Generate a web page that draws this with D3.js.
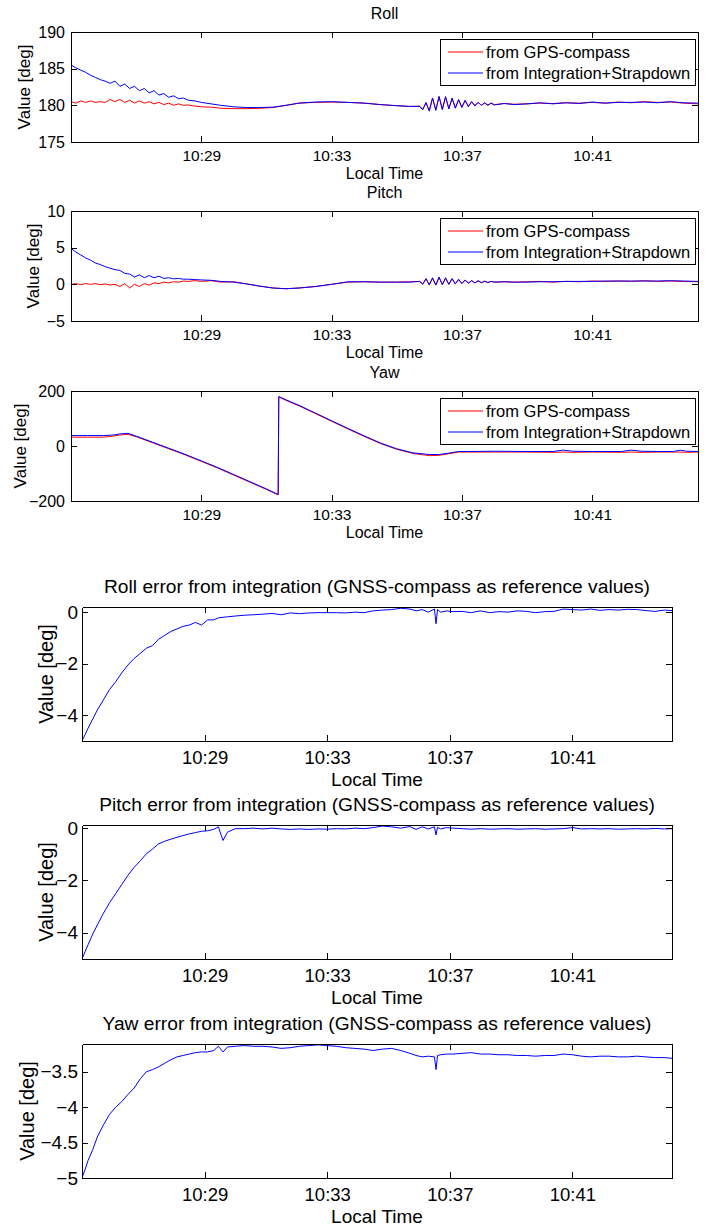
<!DOCTYPE html>
<html>
<head>
<meta charset="utf-8">
<script src="https://cdn.jsdelivr.net/npm/d3@7"></script>
<style>
  body { margin: 0; background: #fff; }
  svg { display: block; font-family: "Liberation Sans", Arial, Helvetica, sans-serif; }
</style>
</head>
<body>
<div id="chart"></div>
<script>
// Attitude from GPS-compass vs integration, plus the integration errors
// times are minutes after 10:25:00

const startTime = "10:25:00";
const endMinute = 19.25;
const timeTickLabels = ["10:29", "10:33", "10:37", "10:41"];
const seriesNames = ["from GPS-compass", "from Integration+Strapdown"];

// roll + pitch share one time base
const timeRP = [
  0, 0.15, 0.3, 0.45, 0.6,
  0.75, 0.9, 1.05, 1.2, 1.35,
  1.5, 1.65, 1.8, 1.95, 2.1,
  2.25, 2.4, 2.55, 2.7, 2.85,
  3.0, 3.15, 3.3, 3.45, 3.6,
  3.8, 4.0, 4.3, 4.6, 5.0,
  5.4, 5.8, 6.2, 6.6, 7.0,
  7.5, 8.0, 8.5, 9.0, 9.5,
  10.0, 10.4, 10.7, 10.8, 10.9,
  11.0, 11.1, 11.2, 11.3, 11.4,
  11.5, 11.6, 11.7, 11.8, 11.9,
  12.0, 12.1, 12.2, 12.3, 12.4,
  12.5, 12.6, 12.7, 12.8, 12.9,
  13.0, 13.3, 13.6, 14.0, 14.4,
  14.8, 15.2, 15.6, 16.0, 16.4,
  16.8, 17.2, 17.6, 18.0, 18.4,
  18.8, 19.25
];

const rollGps = [
  180.5, 180.3, 180.6, 180.4, 180.6,
  180.4, 180.5, 180.4, 180.8, 180.5,
  180.8, 180.4, 180.7, 180.3, 180.6,
  180.3, 180.5, 180.2, 180.4, 180.1,
  180.3, 180.0, 180.2, 180.0, 180.05,
  179.9, 179.8, 179.75, 179.6, 179.55,
  179.55, 179.6, 179.7, 180.0, 180.3,
  180.4, 180.45, 180.4, 180.3, 180.1,
  179.95, 179.85, 179.9, 179.5, 180.3,
  179.3, 181.0, 179.4, 181.2, 179.5,
  181.1, 179.6, 180.9, 179.7, 180.7,
  179.8, 180.6, 179.9, 180.5, 180.0,
  180.4, 180.0, 180.3, 180.05, 180.3,
  180.1, 180.25, 180.15, 180.2, 180.3,
  180.25, 180.35, 180.3, 180.4, 180.3,
  180.45, 180.35, 180.5, 180.4, 180.45,
  180.3, 180.2
];

const rollIns = [
  185.5, 185.1, 184.8, 184.5, 184.1,
  183.8, 183.5, 183.3, 183.0, 183.3,
  182.6, 182.9, 182.3, 182.6, 182.0,
  182.3, 181.7, 182.0, 181.4, 181.6,
  181.1, 181.3, 180.9, 181.0, 180.7,
  180.6, 180.4, 180.2, 180.0, 179.8,
  179.7, 179.7, 179.75, 180.0, 180.3,
  180.45, 180.5, 180.4, 180.3, 180.1,
  179.95, 179.85, 179.85, 179.4, 180.4,
  179.2, 181.0, 179.3, 181.2, 179.4,
  181.2, 179.5, 181.0, 179.6, 180.8,
  179.7, 180.7, 179.8, 180.5, 179.9,
  180.4, 180.0, 180.35, 180.0, 180.3,
  180.05, 180.25, 180.1, 180.2, 180.35,
  180.2, 180.35, 180.25, 180.45, 180.3,
  180.4, 180.4, 180.45, 180.35, 180.5,
  180.35, 180.3
];

const pitchGps = [
  0.0, 0.1, -0.05, 0.1, 0.0,
  0.1, -0.05, 0.05, -0.1, 0.0,
  -0.3, 0.1, -0.5, 0.0, -0.3,
  0.1, -0.1, 0.2, 0.1, 0.3,
  0.2, 0.35, 0.3, 0.45, 0.4,
  0.5, 0.4, 0.5, 0.3, 0.35,
  0.05, -0.25, -0.5, -0.6, -0.5,
  -0.3, 0.0, 0.3, 0.35, 0.3,
  0.3, 0.35, 0.4, 0.1, 0.7,
  0.0, 0.8, -0.1, 0.9, 0.0,
  0.8, 0.0, 0.7, 0.1, 0.6,
  0.15, 0.55, 0.2, 0.5, 0.2,
  0.45, 0.25, 0.4, 0.25, 0.4,
  0.3, 0.35, 0.3, 0.35, 0.4,
  0.3, 0.4, 0.35, 0.45, 0.4,
  0.45, 0.4, 0.5, 0.4, 0.45,
  0.4, 0.35
];

const pitchIns = [
  4.9, 4.4, 4.0, 3.6, 3.3,
  2.9, 2.7, 2.4, 2.2, 2.0,
  1.9, 1.5, 1.4, 1.0, 1.3,
  0.9, 1.2, 0.9, 1.1, 0.8,
  0.9, 0.75, 0.8, 0.7, 0.7,
  0.65, 0.6, 0.55, 0.4, 0.3,
  0.05, -0.25, -0.5, -0.6, -0.5,
  -0.3, 0.0, 0.35, 0.35, 0.3,
  0.3, 0.3, 0.4, 0.0, 0.8,
  -0.1, 0.9, -0.1, 1.0, -0.05,
  0.9, 0.0, 0.8, 0.05, 0.7,
  0.1, 0.6, 0.15, 0.5, 0.2,
  0.5, 0.2, 0.45, 0.25, 0.4,
  0.3, 0.35, 0.3, 0.3, 0.35,
  0.35, 0.4, 0.4, 0.4, 0.45,
  0.45, 0.45, 0.45, 0.45, 0.5,
  0.45, 0.4
];

const timeYaw = [
  0, 0.5, 1.0, 1.3, 1.5,
  1.75, 2.0, 2.5, 3.0, 3.5,
  4.0, 4.5, 5.0, 5.5, 6.0,
  6.36, 6.38, 6.6, 7.0, 7.5,
  8.0, 8.5, 9.0, 9.5, 10.0,
  10.5, 11.0, 11.3, 11.6, 11.9,
  12.2, 13.0, 14.0, 14.8, 15.1,
  15.4, 16.0, 16.9, 17.2, 17.5,
  18.0, 18.5, 18.7, 18.9, 19.25
];

const yawGps = [
  32, 32, 32, 36, 40,
  42, 34, 12, -10, -32,
  -56, -80, -106, -132, -158,
  -178, 178, 166, 146, 118,
  90, 62, 35, 9, -12,
  -27, -35, -34, -28, -22,
  -22, -22, -22, -23, -22,
  -23, -22, -23, -22, -23,
  -22, -22, -22, -23, -22
];

const yawIns = [
  38, 38, 38, 40, 44,
  46, 36, 14, -8, -30,
  -54, -78, -104, -130, -156,
  -176, 180, 168, 148, 120,
  92, 64, 37, 11, -10,
  -25, -31, -31, -26, -20,
  -20, -19, -20, -20, -15,
  -19, -20, -20, -15, -19,
  -20, -20, -15, -19, -20
];

// error panels share one time base
const timeErr = [
  0, 0.1, 0.2, 0.35, 0.5,
  0.7, 0.9, 1.1, 1.3, 1.5,
  1.7, 1.9, 2.1, 2.3, 2.5,
  2.7, 2.9, 3.1, 3.3, 3.5,
  3.7, 3.9, 4.1, 4.3, 4.45,
  4.6, 4.75, 5.0, 5.3, 5.6,
  5.9, 6.2, 6.5, 6.8, 7.1,
  7.4, 7.7, 8.0, 8.3, 8.6,
  8.9, 9.2, 9.5, 9.8, 10.1,
  10.4, 10.7, 10.9, 11.1, 11.3,
  11.5, 11.55, 11.6, 11.7, 11.9,
  12.1, 12.4, 12.7, 13.0, 13.3,
  13.6, 13.9, 14.2, 14.5, 14.8,
  15.1, 15.4, 15.7, 16.0, 16.3,
  16.6, 16.9, 17.2, 17.5, 17.8,
  18.1, 18.4, 18.7, 19.0, 19.25
];

const rollErr = [
  -5.0, -4.75, -4.5, -4.15, -3.8,
  -3.4, -3.0, -2.7, -2.35, -2.05,
  -1.8, -1.6, -1.4, -1.3, -1.05,
  -0.9, -0.75, -0.65, -0.55, -0.5,
  -0.4, -0.5, -0.3, -0.3, -0.22,
  -0.2, -0.18, -0.15, -0.12, -0.1,
  -0.08, -0.05, -0.1, -0.03, -0.06,
  -0.03, -0.02, -0.02, -0.02, -0.03,
  0.0, -0.02, 0.05, 0.08, 0.1,
  0.15, 0.12, 0.05, 0.1, 0.0,
  0.12, -0.45, 0.1, 0.0, 0.05,
  0.02, 0.03, -0.02, 0.05, -0.02,
  0.02, 0.0, 0.05, 0.03, -0.02,
  0.02, 0.03, 0.12, 0.1, 0.08,
  0.12, 0.07, 0.1, 0.08, 0.11,
  0.1, 0.06, 0.03, 0.08, 0.06
];

const pitchErr = [
  -5.0, -4.72, -4.45, -4.05, -3.7,
  -3.25, -2.85, -2.5, -2.15, -1.8,
  -1.5, -1.25, -0.98, -0.8, -0.6,
  -0.5, -0.42, -0.35, -0.28, -0.22,
  -0.17, -0.12, -0.1, -0.05, 0.05,
  -0.47, -0.15, -0.02, -0.02, 0.0,
  -0.03, 0.0, -0.03, -0.05, -0.03,
  -0.05, -0.03, -0.04, -0.02, -0.03,
  0.0, -0.02, 0.02, 0.08, 0.05,
  0.0, 0.06, -0.05, 0.05, -0.03,
  0.05, -0.26, 0.03, -0.03, 0.02,
  0.0, -0.02, -0.04, -0.02, -0.04,
  -0.03, -0.02, -0.04, -0.03, -0.02,
  -0.04, -0.03, -0.02, 0.02, -0.03,
  -0.02, -0.03, -0.02, -0.04, -0.03,
  -0.02, -0.03, -0.01, -0.03, -0.02
];

const yawErr = [
  -5.0, -4.88, -4.75, -4.6, -4.42,
  -4.25, -4.1, -4.0, -3.92, -3.82,
  -3.73, -3.6, -3.5, -3.47, -3.43,
  -3.38, -3.33, -3.29, -3.27, -3.25,
  -3.23, -3.22, -3.22, -3.2, -3.14,
  -3.22, -3.15, -3.14, -3.13, -3.14,
  -3.14, -3.15, -3.17, -3.16, -3.14,
  -3.13, -3.12, -3.13, -3.14, -3.16,
  -3.17, -3.18, -3.2, -3.18, -3.17,
  -3.2, -3.24, -3.27, -3.29, -3.28,
  -3.29, -3.47, -3.27, -3.26, -3.25,
  -3.25, -3.24, -3.23, -3.25, -3.25,
  -3.26, -3.26, -3.27, -3.27, -3.28,
  -3.27, -3.27, -3.25, -3.26, -3.28,
  -3.29, -3.28, -3.28, -3.29, -3.29,
  -3.28, -3.29, -3.3, -3.3, -3.31
];

const width = 714, height = 1227;

const svg = d3.select("#chart")
  .append("svg")
  .attr("width", width)
  .attr("height", height);

const parseHM = d3.timeParse("%H:%M");
const t0 = d3.timeParse("%H:%M:%S")(startTime);
const toDate = m => new Date(t0.getTime() + m * 60000);
const tickDates = timeTickLabels.map(parseHM);

// small panels (with legend) and large error panels
const small = { left: 71, right: 698, h: 110, xFont: 15.5, yFont: 16, labelFont: 16, titleFont: 16,
  yLabelFont: 17, xPad: 8, yPad: 6, tickLen: 6, titleOff: 13, xLabelOff: 37, legFont: 16.5 };
const big = { left: 82, right: 672, h: 134, xFont: 18.5, yFont: 19, labelFont: 19, titleFont: 19.2,
  yLabelFont: 20, xPad: 10, yPad: 4, tickLen: 6, titleOff: 14, xLabelOff: 45 };

let clipCount = 0;

function panel(cfg, L) {
  const bottom = cfg.top + L.h;
  const x = d3.scaleTime()
    .domain([t0, toDate(endMinute)])
    .range([L.left, L.right]);
  const y = d3.scaleLinear()
    .domain(cfg.yDomain)
    .range([bottom, cfg.top]);

  const g = svg.append("g");

  // clip lines to the axes box
  const id = "clip" + (clipCount++);
  svg.append("clipPath").attr("id", id)
    .append("rect")
    .attr("x", L.left).attr("y", cfg.top)
    .attr("width", L.right - L.left).attr("height", L.h);

  cfg.series.forEach(s => {
    const line = d3.line()
      .x((d, i) => x(toDate(s.t[i])))
      .y(d => y(d));
    g.append("path")
      .datum(s.v)
      .attr("clip-path", `url(#${id})`)
      .attr("fill", "none")
      .attr("stroke", s.color)
      .attr("stroke-width", 1)
      .attr("stroke-linejoin", "round")
      .attr("d", line);
  });

  const fmt = d3.timeFormat("%H:%M");

  // bottom axis with labels, top axis mirrored without labels
  const xb = g.append("g")
    .attr("transform", `translate(0,${bottom})`)
    .call(d3.axisBottom(x).tickValues(tickDates).tickFormat(fmt)
      .tickSizeInner(-L.tickLen).tickSizeOuter(0).tickPadding(L.xPad));
  xb.selectAll("text").attr("font-size", L.xFont);

  g.append("g")
    .attr("transform", `translate(0,${cfg.top})`)
    .call(d3.axisTop(x).tickValues(tickDates).tickFormat("")
      .tickSizeInner(-L.tickLen).tickSizeOuter(0));

  const yl = g.append("g")
    .attr("transform", `translate(${L.left},0)`)
    .call(d3.axisLeft(y).tickValues(cfg.yTicks).tickFormat(d3.format("")).tickSizeInner(-L.tickLen)
      .tickSizeOuter(0).tickPadding(L.yPad));
  yl.selectAll("text").attr("font-size", L.yFont);

  g.append("g")
    .attr("transform", `translate(${L.right},0)`)
    .call(d3.axisRight(y).tickValues(cfg.yTicks).tickFormat("")
      .tickSizeInner(-L.tickLen).tickSizeOuter(0));

  g.selectAll(".domain, .tick line").attr("shape-rendering", "crispEdges");
  g.selectAll("g").attr("font-family", null);

  // title, axis labels
  g.append("text")
    .attr("x", (L.left + L.right) / 2)
    .attr("y", cfg.top - L.titleOff)
    .attr("text-anchor", "middle")
    .attr("font-size", L.titleFont)
    .text(cfg.title);

  g.append("text")
    .attr("x", (L.left + L.right) / 2)
    .attr("y", bottom + L.xLabelOff)
    .attr("text-anchor", "middle")
    .attr("font-size", L.labelFont)
    .text("Local Time");

  g.append("text")
    .attr("transform", `translate(${cfg.yLabelX},${cfg.top + L.h / 2}) rotate(-90)`)
    .attr("dy", "0.35em")
    .attr("text-anchor", "middle")
    .attr("font-size", L.yLabelFont)
    .text("Value [deg]");

  if (cfg.legend) {
    const lx = L.right - 258, ly = cfg.top + 7;
    const lg = g.append("g");
    lg.append("rect")
      .attr("x", lx).attr("y", ly)
      .attr("width", 255).attr("height", 46)
      .attr("fill", "#fff").attr("stroke", "#000")
      .attr("shape-rendering", "crispEdges");
    cfg.series.forEach((s, i) => {
      const yy = ly + 13 + i * 21;
      lg.append("line")
        .attr("x1", lx + 8).attr("x2", lx + 43)
        .attr("y1", yy).attr("y2", yy)
        .attr("stroke", s.color);
      lg.append("text")
        .attr("x", lx + 46).attr("y", yy)
        .attr("dy", "0.35em")
        .attr("font-size", L.legFont)
        .text(seriesNames[i]);
    });
  }
}

panel({ top: 32, yDomain: [175, 190], yTicks: [175, 180, 185, 190], title: "Roll", yLabelX: 24, legend: true,
  series: [{ t: timeRP, v: rollGps, color: "#ff0000" }, { t: timeRP, v: rollIns, color: "#0000ff" }] }, small);

panel({ top: 211, yDomain: [-5, 10], yTicks: [-5, 0, 5, 10], title: "Pitch", yLabelX: 33, legend: true,
  series: [{ t: timeRP, v: pitchGps, color: "#ff0000" }, { t: timeRP, v: pitchIns, color: "#0000ff" }] }, small);

panel({ top: 391, yDomain: [-200, 200], yTicks: [-200, 0, 200], title: "Yaw", yLabelX: 20, legend: true,
  series: [{ t: timeYaw, v: yawGps, color: "#ff0000" }, { t: timeYaw, v: yawIns, color: "#0000ff" }] }, small);

panel({ top: 607, yDomain: [-5, 0.2], yTicks: [-4, -2, 0],
  title: "Roll error from integration (GNSS-compass as reference values)", yLabelX: 46,
  series: [{ t: timeErr, v: rollErr, color: "#0000ff" }] }, big);

panel({ top: 825, yDomain: [-5, 0.12], yTicks: [-4, -2, 0],
  title: "Pitch error from integration (GNSS-compass as reference values)", yLabelX: 46,
  series: [{ t: timeErr, v: pitchErr, color: "#0000ff" }] }, big);

panel({ top: 1044, yDomain: [-5, -3.108], yTicks: [-5, -4.5, -4, -3.5],
  title: "Yaw error from integration (GNSS-compass as reference values)", yLabelX: 27,
  series: [{ t: timeErr, v: yawErr, color: "#0000ff" }] }, big);
</script>
</body>
</html>
